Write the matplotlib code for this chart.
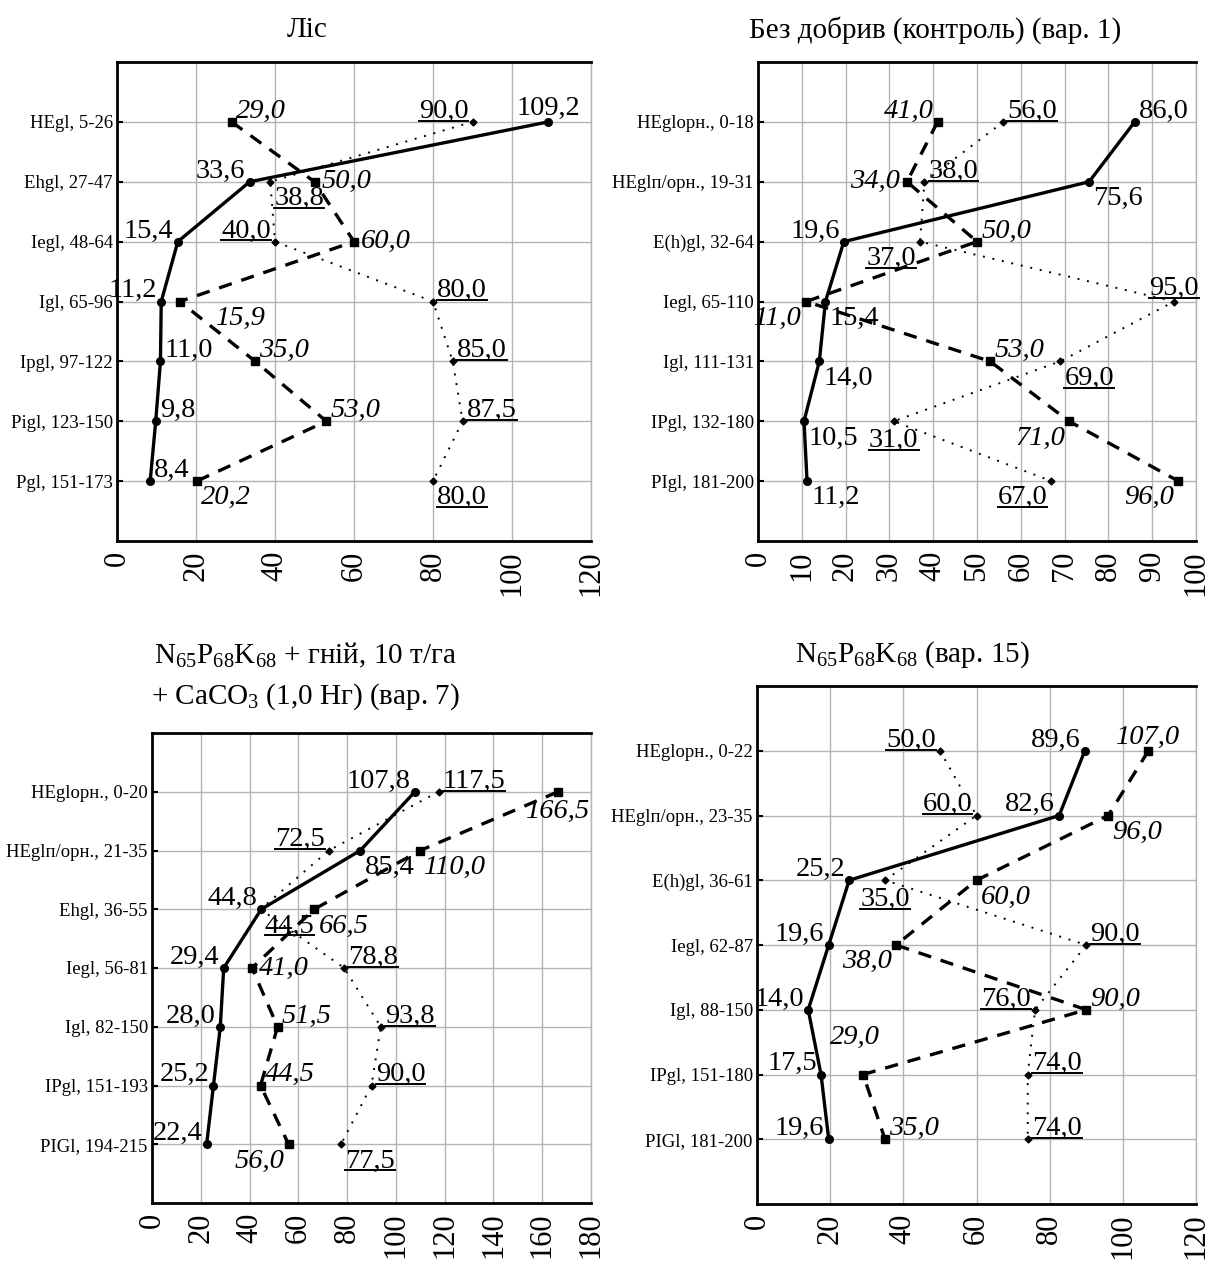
import matplotlib
matplotlib.use("Agg")
from matplotlib import pyplot as plt
from matplotlib.lines import Line2D

plt.rcParams['font.family'] = ['Liberation Serif', 'DejaVu Serif']
plt.rcParams['mathtext.fontset'] = 'custom'
plt.rcParams['mathtext.rm'] = 'Liberation Serif'
plt.rcParams['mathtext.it'] = 'Liberation Serif:italic'

# ---- data ----
cats_les = ["HEgl, 5-26", "Ehgl, 27-47", "Iegl, 48-64", "Igl, 65-96",
            "Ipgl, 97-122", "Pigl, 123-150", "Pgl, 151-173"]
solid_les = [109.2, 33.6, 15.4, 11.2, 11.0, 9.8, 8.4]
dashed_les = [29.0, 50.0, 60.0, 15.9, 35.0, 53.0, 20.2]
dotted_les = [90.0, 38.8, 40.0, 80.0, 85.0, 87.5, 80.0]

cats_v1 = ["HEglорн., 0-18", "HEglп/орн., 19-31", "E(h)gl, 32-64", "Iegl, 65-110",
           "Igl, 111-131", "IPgl, 132-180", "PIgl, 181-200"]
solid_v1 = [86.0, 75.6, 19.6, 15.4, 14.0, 10.5, 11.2]
dashed_v1 = [41.0, 34.0, 50.0, 11.0, 53.0, 71.0, 96.0]
dotted_v1 = [56.0, 38.0, 37.0, 95.0, 69.0, 31.0, 67.0]

cats_v7 = ["HEglорн., 0-20", "HEglп/орн., 21-35", "Ehgl, 36-55", "Iegl, 56-81",
           "Igl, 82-150", "IPgl, 151-193", "PIGl, 194-215"]
solid_v7 = [107.8, 85.4, 44.8, 29.4, 28.0, 25.2, 22.4]
dashed_v7 = [166.5, 110.0, 66.5, 41.0, 51.5, 44.5, 56.0]
dotted_v7 = [117.5, 72.5, 44.5, 78.8, 93.8, 90.0, 77.5]

cats_v15 = ["HEglорн., 0-22", "HEglп/орн., 23-35", "E(h)gl, 36-61", "Iegl, 62-87",
            "Igl, 88-150", "IPgl, 151-180", "PIGl, 181-200"]
solid_v15 = [89.6, 82.6, 25.2, 19.6, 14.0, 17.5, 19.6]
dashed_v15 = [107.0, 96.0, 60.0, 38.0, 90.0, 29.0, 35.0]
dotted_v15 = [50.0, 60.0, 35.0, 90.0, 76.0, 74.0, 74.0]

ticks_les = [0, 20, 40, 60, 80, 100, 120]
ticks_v1 = [0, 10, 20, 30, 40, 50, 60, 70, 80, 90, 100]
ticks_v7 = [0, 20, 40, 60, 80, 100, 120, 140, 160, 180]
ticks_v15 = [0, 20, 40, 60, 80, 100, 120]

# ---- label placement codes (solid, dashed, dotted) ----
pos_les = (['u', 'ul', 'ul', 'ul', 'ur', 'ur', 'ur'],
           ['ur', 'r', 'r', 'lr+', 'ur', 'ur', 'lr'],
           ['ul', 'lr', 'ul', 'ur', 'ur', 'ur', 'lr'])
pos_v1 = (['ur', 'lr', 'ul', 'lr', 'lr', 'lr', 'lr'],
          ['ul', 'l', 'ur', 'll', 'ur', 'll', 'll'],
          ['ur', 'ur', 'll', 'u', 'lr', 'd', 'll'])
pos_v7 = (['ul', 'lr', 'ul', 'ul', 'ul', 'ul', 'ul'],
          ['d', 'lr', 'lr', 'r', 'ur', 'ur', 'll'],
          ['ur', 'ul', 'lr', 'ur', 'ur', 'ur', 'lr'])
pos_v15 = (['ul', 'ul', 'ul', 'ul', 'ul', 'ul', 'ul'],
           ['u', 'lr', 'lr', 'll', 'ur', 'u+', 'ur'],
           ['ul', 'ul', 'd', 'ur', 'ul', 'ur', 'ur'])

W, H = 1205, 1266
fig = plt.figure(figsize=(W / 100, H / 100), dpi=100)

underlined = []


def fmt(v):
  return f"{v:.1f}".replace('.', ',')


def offset(code):
  table = {
    'ur': (3, 3, 'left', 'baseline'),
    'ul': (-3, 3, 'right', 'baseline'),
    'lr': (3, -3, 'left', 'top'),
    'lr+': (26, -3, 'left', 'top'),
    'll': (-3, -3, 'right', 'top'),
    'u': (0, 5, 'center', 'baseline'),
    'u+': (-6, 22, 'center', 'baseline'),
    'd': (0, -5, 'center', 'top'),
    'r': (5, 0, 'left', 'center'),
    'l': (-5, 0, 'right', 'center'),
  }
  return table[code]


def panel(box, cats, solid, dashed, dotted, ticks, pos):
  l, r, t, b = box
  ax = fig.add_axes([l / W, 1 - b / H, (r - l) / W, (b - t) / H])
  y = list(range(len(cats)))
  ax.plot(solid, y, '-', color='black', lw=2.4, marker='o', ms=5.5, zorder=4)
  ax.plot(dashed, y, color='black', lw=2.4, ls=(0, (4, 3)), marker='s', ms=6, zorder=4)
  ax.plot(dotted, y, color='black', lw=1.4, ls=(0, (1, 4)), marker='D', ms=3.5, zorder=4)

  for series, codes, style in ((solid, pos[0], 'normal'),
                               (dashed, pos[1], 'italic'),
                               (dotted, pos[2], 'under')):
    for v, yy, c in zip(series, y, codes):
      dx, dy, ha, va = offset(c)
      txt = ax.annotate(fmt(v), (v, yy), xytext=(dx, dy), textcoords='offset points',
                        ha=ha, va=va, fontsize=20.5,
                        style='italic' if style == 'italic' else 'normal',
                        annotation_clip=False, zorder=5)
      if style == 'under':
        underlined.append(txt)

  ax.set_xlim(ticks[0], ticks[-1])
  ax.set_ylim(len(cats), -1)
  ax.set_xticks(ticks)
  ax.set_xticklabels([str(tk) for tk in ticks], rotation=90, fontsize=22)
  ax.set_yticks(y)
  ax.set_yticklabels(cats, fontsize=13.5)
  ax.tick_params(axis='x', length=0, pad=7)
  ax.tick_params(axis='y', direction='in', length=4, width=1.5, pad=3)
  ax.grid(True, color='#b4b4b4', lw=1)
  ax.set_axisbelow(True)
  for s in ('left', 'top', 'bottom'):
    ax.spines[s].set_linewidth(2)
  ax.spines['right'].set_color('#b4b4b4')
  ax.spines['right'].set_linewidth(1)
  return ax


panel((117, 591, 62, 541), cats_les, solid_les, dashed_les, dotted_les, ticks_les, pos_les)
panel((758, 1196, 62, 541), cats_v1, solid_v1, dashed_v1, dotted_v1, ticks_v1, pos_v1)
panel((152, 591, 733, 1203), cats_v7, solid_v7, dashed_v7, dotted_v7, ticks_v7, pos_v7)
panel((757, 1196, 686, 1204), cats_v15, solid_v15, dashed_v15, dotted_v15, ticks_v15, pos_v15)

fig.text(307 / W, 1 - 30 / H, "Ліс", ha='center', va='center', fontsize=21)
fig.text(935 / W, 1 - 30 / H, "Без добрив (контроль) (вар. 1)", ha='center', va='center', fontsize=21)
fig.text(305 / W, 1 - 655 / H, r"N$_{65}$P$_{68}$K$_{68}$ + гній, 10 т/га",
         ha='center', va='center', fontsize=21)
fig.text(305 / W, 1 - 697 / H, r"+ CaCO$_{3}$ (1,0 Нг) (вар. 7)",
         ha='center', va='center', fontsize=21)
fig.text(912 / W, 1 - 655 / H, r"N$_{65}$P$_{68}$K$_{68}$ (вар. 15)",
         ha='center', va='center', fontsize=21)

# underline the dotted-series labels
fig.canvas.draw()
renderer = fig.canvas.get_renderer()
inv = fig.transFigure.inverted()
for txt in underlined:
  bb = txt.get_window_extent(renderer)
  (x0, y0), (x1, _) = inv.transform([(bb.x0, bb.y0 + 3), (bb.x1, bb.y0 + 3)])
  fig.add_artist(Line2D([x0, x1], [y0, y0], transform=fig.transFigure,
                        color='black', lw=1.4))

fig.savefig("out.png", dpi=100)
